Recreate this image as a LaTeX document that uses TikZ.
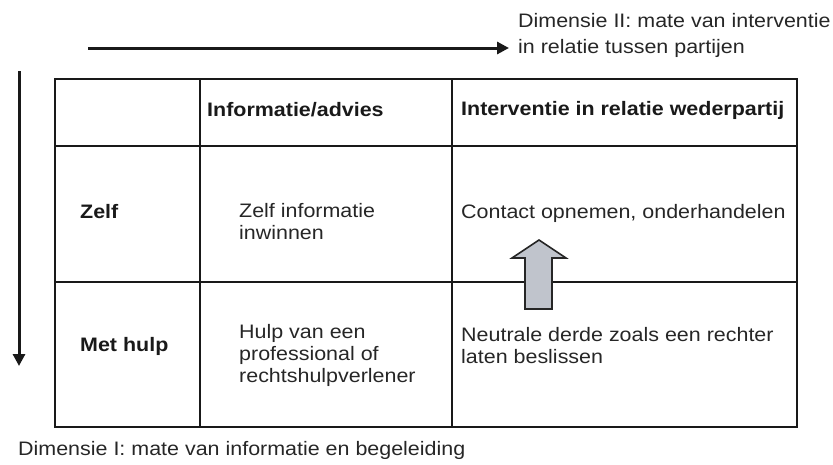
\documentclass[tikz,border=0pt]{standalone}
\usepackage{fontspec}
\setmainfont[FakeStretch=1.1]{Liberation Sans}
\usepackage{tikz}
\usetikzlibrary{arrows.meta}
\definecolor{grijsblauw}{RGB}{192,196,204}
\tikzset{
	celtekst/.append style={
		anchor=west,
		align=left,
		inner sep=0pt,
		text=black!85,
		font={\fontsize{19.5}{22}\selectfont}
	},
	kop/.append style={
		celtekst,
		text=black!90,
		font={\fontsize{19.5}{22}\selectfont\bfseries}
	},
	rooster/.append style={
		draw=black!90,
		line width=1.6pt
	},
	dimensiepijl/.append style={
		draw=black!90,
		line width=3pt,
		-{Triangle[length=12pt,width=12pt]}
	},
	blokpijl/.append style={
		draw=black!85,
		line width=1.6pt,
		fill=grijsblauw,
		line join=miter
	}
}

\begin{document}
\begin{tikzpicture}[x=1pt,y=-1pt]
\useasboundingbox (0,0) rectangle (833,464);

% dimensies
\node(dimII)[celtekst, font={\fontsize{19.5}{26}\selectfont}] at (518,35) {Dimensie II: mate van interventie\\in relatie tussen partijen};
\node(dimI)[celtekst] at (18,450) {Dimensie I: mate van informatie en begeleiding};

\coordinate (hstart) at (88,48);
\coordinate (hend) at (509,48);
\coordinate (vstart) at (19,71);
\coordinate (vend) at (19,366);

\draw[dimensiepijl] (hstart) -- (hend);
\draw[dimensiepijl] (vstart) -- (vend);

% tabel
\draw[rooster] (55,79) rectangle (797,427);
\draw[rooster] (200,79) -- (200,427) (452,79) -- (452,427);
\draw[rooster] (55,146) -- (797,146) (55,282) -- (797,282);

\node(kinfo)[kop] at (207,110) {Informatie/advies};
\node(kint)[kop] at (461,110) {Interventie in relatie wederpartij};
\node(kzelf)[kop] at (80,212) {Zelf};
\node(khulp)[kop] at (80,346) {Met hulp};

\node(zelfinfo)[celtekst] at (239,222) {Zelf informatie\\inwinnen};
\node(zelfint)[celtekst] at (461,213) {Contact opnemen, onderhandelen};
\node(hulpinfo)[celtekst] at (239,355) {Hulp van een\\professional of\\rechtshulpverlener};
\node(hulpint)[celtekst] at (461,346) {Neutrale derde zoals een rechter\\laten beslissen};

% grijze pijl
\draw[blokpijl] (525,309) -- (525,258) -- (512,258) -- (539,240) -- (566,258) -- (552,258) -- (552,309) -- cycle;

\end{tikzpicture}
\end{document}
